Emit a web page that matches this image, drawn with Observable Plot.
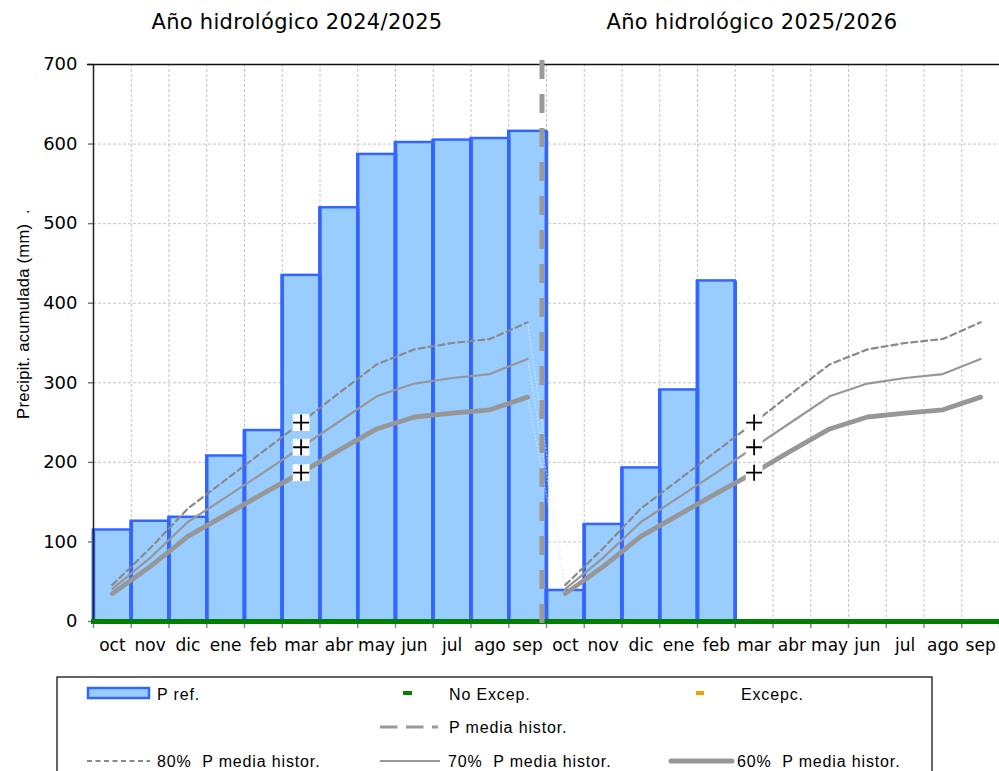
<!DOCTYPE html>
<html>
<head>
<meta charset="utf-8">
<script src="https://cdn.jsdelivr.net/npm/d3@7"></script>
<script src="https://cdn.jsdelivr.net/npm/@observablehq/plot@0.6"></script>
<style>
  body { margin: 0; background: #fff; }
  #wrap { position: relative; width: 999px; height: 771px; overflow: hidden; background: #fff; }
  #chart { position: absolute; left: 0; top: 0; }
  .title { position: absolute; top: 12px; font-family: "DejaVu Sans", sans-serif; font-size: 21px; line-height: 21px; letter-spacing: 0.3px; white-space: nowrap; transform: translateX(-50%); color: #000; }
  #ylabel { position: absolute; left: -107px; top: 304px; width: 260px; height: 20px; line-height: 20px; text-align: center; font-family: "Liberation Sans", Arial, sans-serif; font-size: 16.5px; letter-spacing: 0.3px; white-space: pre; transform: rotate(-90deg); transform-origin: center; color: #000; }
  #legend { position: absolute; left: 0; top: 670px; }
  #legend text { font-family: "Liberation Sans", Arial, sans-serif; font-size: 16px; letter-spacing: 0.85px; white-space: pre; fill: #000; }
</style>
</head>
<body>
<div id="wrap">
  <div id="chart"></div>
  <div class="title" id="t1" style="left:297px"></div>
  <div class="title" id="t2" style="left:752px"></div>
  <div id="ylabel"></div>
  <svg id="legend" width="999" height="101"></svg>
</div>
<script>
// ---------- data ----------
const months = ["oct", "nov", "dic", "ene", "feb", "mar", "abr", "may", "jun", "jul", "ago", "sep"];
const yearTitles = ["Año hidrológico 2024/2025", "Año hidrológico 2025/2026"];
const yLabel = "Precipit. acumulada (mm)  .";
const yTicks = [0, 100, 200, 300, 400, 500, 600, 700];

// accumulated precipitation (P ref.)
const pref2425 = [115, 126, 131, 208, 240, 435, 520, 587, 602, 605, 607, 616];
const pref2526 = [39, 122, 193, 291, 428];

// historical mean percentages (same climatology both years)
const p80 = [46, 92, 142, 178, 214, 250, 287, 323, 342, 350, 355, 376];
const p70 = [41, 80, 125, 156, 187, 219, 251, 283, 299, 306, 311, 330];
const p60 = [35, 69, 107, 134, 161, 187, 215, 242, 257, 262, 266, 282];

const noExcep = [0];          // "No Excep." series lies on zero
const markerMonth = "mar";    // current month markers
const yearBoundary = 12;      // month slot where the second year starts

// ---------- derived tables ----------
const slots = d3.range(24).map(i => ({ i, label: months[i % 12] }));
const bars = [
  ...pref2425.map((v, k) => ({ i: k, v })),
  ...pref2526.map((v, k) => ({ i: 12 + k, v }))
];
function seriesRows(vals, name) {
  const rows = [];
  for (let y = 0; y < 2; y++) vals.forEach((v, k) => rows.push({ x: 12 * y + k + 0.5, v, year: y, name }));
  return rows;
}
const r80 = seriesRows(p80, "80"), r70 = seriesRows(p70, "70"), r60 = seriesRows(p60, "60");
const connectors = [p80, p70, p60].map(s => ({ x1: 11.5, y1: s[11], x2: 12.5, y2: s[0] }));
const mIdx = months.indexOf(markerMonth);
const markers = [];
for (let y = 0; y < 2; y++) [p80, p70, p60].forEach(s => markers.push({ x: 12 * y + mIdx + 0.5, v: s[mIdx] }));

const grey = "#979797";

const chart = Plot.plot({
  width: 999,
  height: 665,
  marginLeft: 93,
  marginRight: 0,
  marginTop: 64,
  marginBottom: 44,
  x: { domain: [0, 24], axis: null },
  y: { domain: [0, 700], axis: null },
  style: { fontFamily: "DejaVu Sans, sans-serif", background: "transparent", overflow: "visible", color: "#000" },
  marks: [
    // grid
    Plot.ruleY(yTicks.filter(t => t > 0 && t < 700), { stroke: "#c4c4c4", strokeWidth: 1, strokeDasharray: "3,2" }),
    Plot.ruleX(d3.range(1, 24), { stroke: "#c4c4c4", strokeWidth: 1, strokeDasharray: "3,2" }),
    // bars
    Plot.rect(bars, { x1: "i", x2: d => d.i + 1, y1: 0, y2: "v", fill: "#99ccff", stroke: "#3366ff", strokeWidth: 2.5 }),
    Plot.ruleX(bars, { x: "i", y1: 0, y2: "v", stroke: "#3366ff", strokeWidth: 3.5 }),
    Plot.ruleX(bars, { x: d => d.i + 1, y1: 0, y2: "v", stroke: "#3366ff", strokeWidth: 3.5 }),
    // faint connectors between years
    Plot.link(connectors, { x1: "x1", y1: "y1", x2: "x2", y2: "y2", stroke: "#e6f0ff", strokeWidth: 0.8, strokeDasharray: "2,1.5" }),
    // historical lines
    Plot.line(r80, { x: "x", y: "v", z: "year", stroke: "#8a8a8a", strokeWidth: 2.2, strokeDasharray: "6,4" }),
    Plot.line(r70, { x: "x", y: "v", z: "year", stroke: grey, strokeWidth: 2.2 }),
    Plot.line(r60, { x: "x", y: "v", z: "year", stroke: grey, strokeWidth: 4.8, strokeLinecap: "round" }),
    // current-month markers
    Plot.dot(markers, { x: "x", y: "v", symbol: "square", r: 9.5, fill: "white", stroke: "none" }),
    Plot.dot(markers, { x: "x", y: "v", symbol: "plus", r: 5.2, stroke: "#000", strokeWidth: 1.8 }),
    // y axis
    Plot.axisY({ ticks: yTicks, tickSize: 5, tickPadding: 11, fontSize: 18, stroke: "#7a7a7a", fill: "#000", strokeWidth: 1.5 }),
    Plot.ruleX([0], { stroke: "#222", strokeWidth: 1.5 }),
    Plot.ruleY([700], { stroke: "#111", strokeWidth: 1.5, insetLeft: -6 }),
    // x ticks at month boundaries
    Plot.axisX({ ticks: d3.range(0, 25), tickFormat: () => "", tickSize: 7, stroke: "#888", strokeWidth: 1.5 }),
    // No Excep. line
    Plot.ruleY(noExcep, { stroke: "#008000", strokeWidth: 5, insetLeft: -2 }),
    // year divider (drawn from the top down so the dash pattern starts at the top)
    Plot.ruleX([yearBoundary], { dx: -4.5, y1: 700, y2: 0, insetTop: -4, insetBottom: -5, stroke: "#9a9a9a", strokeWidth: 5, strokeDasharray: "19,15" }),
    // month labels
    Plot.text(slots, { x: d => d.i + 0.5, text: "label", frameAnchor: "bottom", dy: 29.5, fontSize: 17, fill: "#000" })
  ]
});
document.getElementById("chart").appendChild(chart);
document.getElementById("t1").textContent = yearTitles[0];
document.getElementById("t2").textContent = yearTitles[1];
document.getElementById("ylabel").textContent = yLabel;

// ---------- legend ----------
const L = d3.select("#legend");
const oy = 670;
L.append("rect").attr("x", 57).attr("y", 677 - oy).attr("width", 875).attr("height", 120).attr("fill", "none").attr("stroke", "#000").attr("stroke-width", 1.2);
// row 1
L.append("rect").attr("x", 88).attr("y", 688 - oy).attr("width", 61).attr("height", 10).attr("fill", "#99ccff").attr("stroke", "#3366ff").attr("stroke-width", 2.5);
L.append("text").attr("x", 157).attr("y", 700 - oy).text("P ref.");
L.append("rect").attr("x", 403).attr("y", 691 - oy).attr("width", 9).attr("height", 4).attr("fill", "#008000");
L.append("text").attr("x", 449).attr("y", 700 - oy).text("No Excep.");
L.append("rect").attr("x", 696).attr("y", 691 - oy).attr("width", 8).attr("height", 4).attr("fill", "#ff9900");
L.append("text").attr("x", 741).attr("y", 700 - oy).text("Excepc.");
// row 2
L.append("line").attr("x1", 380).attr("x2", 438).attr("y1", 727 - oy).attr("y2", 727 - oy).attr("stroke", "#9a9a9a").attr("stroke-width", 3).attr("stroke-dasharray", "17.5,8.5");
L.append("text").attr("x", 449).attr("y", 733 - oy).text("P media histor.");
// row 3
L.append("line").attr("x1", 87).attr("x2", 150).attr("y1", 761 - oy).attr("y2", 761 - oy).attr("stroke", "#8a8a8a").attr("stroke-width", 2).attr("stroke-dasharray", "5,3.5");
L.append("text").attr("x", 157).attr("y", 767 - oy).text("80%  P media histor.");
L.append("line").attr("x1", 380).attr("x2", 440).attr("y1", 761 - oy).attr("y2", 761 - oy).attr("stroke", grey).attr("stroke-width", 2);
L.append("text").attr("x", 448).attr("y", 767 - oy).text("70%  P media histor.");
L.append("line").attr("x1", 671).attr("x2", 732).attr("y1", 761 - oy).attr("y2", 761 - oy).attr("stroke", grey).attr("stroke-width", 5).attr("stroke-linecap", "round");
L.append("text").attr("x", 737).attr("y", 767 - oy).text("60%  P media histor.");
</script>
</body>
</html>
